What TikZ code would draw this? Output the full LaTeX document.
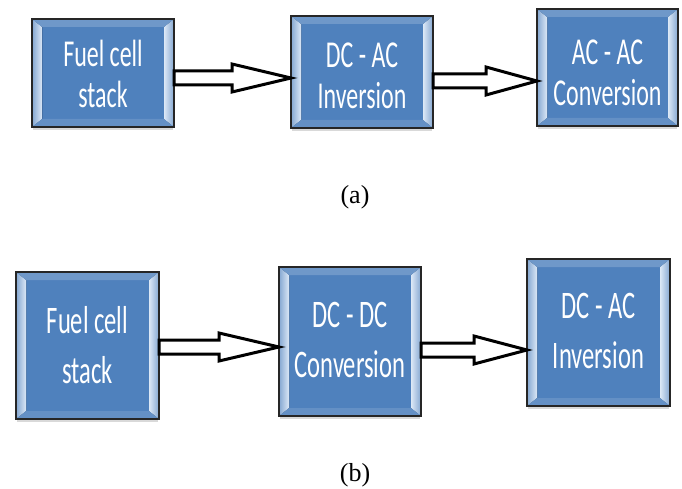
\documentclass[tikz,border=0pt]{standalone}
\usepackage{fontspec}
\setmainfont{Liberation Serif}
\newfontfamily\boxfont{Carlito}
\usepackage{graphicx}
\usetikzlibrary{shadows,calc}

\definecolor{boxblue}{HTML}{4F81BD}
\definecolor{bevellight}{HTML}{DCE8F6}

\tikzset{
block/.style={draw=black!85, line width=2pt, fill=boxblue, inner sep=0pt, text=white,
  drop shadow={shadow xshift=0pt, shadow yshift=-4pt, opacity=0.3}},
blocka/.style={block, font=\boxfont\fontsize{38}{41}\selectfont},
blockb/.style={block, font=\boxfont\fontsize{39}{50}\selectfont},
arrowline/.style={draw=black, line width=3pt, fill=white, line join=miter},
caption/.style={font=\fontsize{26}{30}\selectfont}
}

% text of a block, squeezed sideways and lowered by #1
\newcommand\twolines[3]{\raisebox{#1}[\height][\depth]{\scalebox{0.63}[1]{\begin{tabular}{@{}c@{}}#2\\#3\end{tabular}}}}

% hollow block arrow: start, end, head length
\newcommand\hollowarrow[3]{%
\draw[arrowline] let \p1=(#1), \p2=(#2) in
  (\x1,\y1+7pt) -- (\x2-#3,\y1+7pt) -- (\x2-#3,\y1+14pt) -- (\x2,\y1)
  -- (\x2-#3,\y1-14pt) -- (\x2-#3,\y1-7pt) -- (\x1,\y1-7pt) -- cycle;}

\begin{document}
\begin{tikzpicture}[x=1pt,y=-1pt]
\useasboundingbox (0,0) rectangle (682,489);

% (a)
\node[blocka, minimum width=140, minimum height=106] (fa) at (103,73) {\twolines{-6pt}{Fuel cell}{stack}};
\node[blocka, minimum width=140, minimum height=110] (ia) at (362,72) {\twolines{-8pt}{DC - AC}{Inversion}};
\node[blocka, minimum width=139, minimum height=115] (ca) at (607.5,67.5) {\twolines{-9pt}{AC - AC}{Conversion}};

% (b)
\node[blockb, minimum width=141, minimum height=145] (fb) at (87.5,345.5) {\twolines{-3pt}{Fuel cell}{stack}};
\node[blockb, minimum width=140, minimum height=147] (cb) at (350,341.5) {\twolines{-1pt}{DC - DC}{Conversion}};
\node[blockb, minimum width=141, minimum height=145] (ib) at (598.5,332.5) {\twolines{-1pt}{DC - AC}{Inversion}};

% bevelled edges
\foreach \n in {fa,ia,ca,fb,cb,ib}{
\fill[left color=boxblue!70!white, right color=bevellight]
  (\n.south west) -- (\n.north west) -- ([shift={(10pt,-8pt)}]\n.north west)
  -- ([shift={(10pt,8pt)}]\n.south west) -- cycle;
\fill[left color=bevellight, right color=boxblue!70!white]
  (\n.south east) -- (\n.north east) -- ([shift={(-10pt,-8pt)}]\n.north east)
  -- ([shift={(-10pt,8pt)}]\n.south east) -- cycle;
\fill[boxblue!82!white]
  (\n.north west) -- (\n.north east) -- ([shift={(-10pt,-8pt)}]\n.north east)
  -- ([shift={(10pt,-8pt)}]\n.north west) -- cycle;
\fill[boxblue!88!white]
  (\n.south west) -- (\n.south east) -- ([shift={(-10pt,8pt)}]\n.south east)
  -- ([shift={(10pt,8pt)}]\n.south west) -- cycle;
\draw[black!85, line width=2pt] (\n.south west) rectangle (\n.north east);
}

\hollowarrow{[yshift=-5pt]fa.east}{ia.west}{59pt}
\hollowarrow{[yshift=-9pt]ia.east}{ca.west}{51pt}
\hollowarrow{[yshift=-1.5pt]fb.east}{cb.west}{60pt}
\hollowarrow{[yshift=-8.5pt]cb.east}{ib.west}{53pt}

\node[caption] (capa) at (355,197) {(a)};
\node[caption] (capb) at (355,475) {(b)};
\end{tikzpicture}
\end{document}
